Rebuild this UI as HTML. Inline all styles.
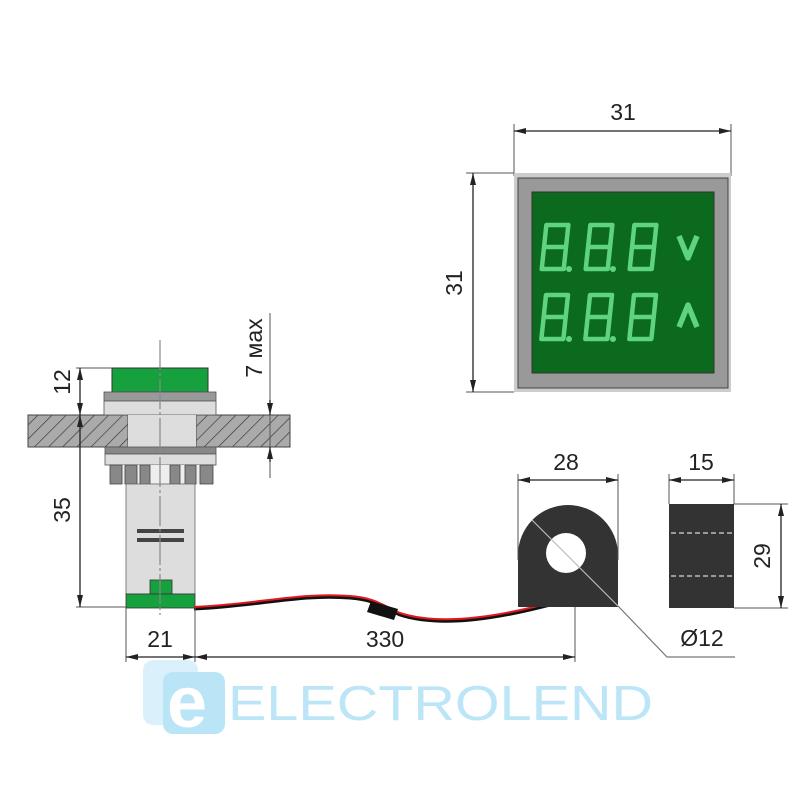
<!DOCTYPE html>
<html><head><meta charset="utf-8"><style>
html,body{margin:0;padding:0;background:#fff;}
svg{display:block;font-family:"Liberation Sans",sans-serif;}
</style></head><body>
<svg width="800" height="800" viewBox="0 0 800 800" xmlns="http://www.w3.org/2000/svg">
<defs>
<marker id="a" viewBox="0 0 12 6" refX="12" refY="3" markerWidth="12" markerHeight="6" orient="auto-start-reverse" markerUnits="userSpaceOnUse"><path d="M0,0 L12,3 L0,6 Z" fill="#222"/></marker>
<pattern id="h" width="10" height="10" patternUnits="userSpaceOnUse" patternTransform="rotate(45)"><rect width="10" height="10" fill="#aaa"/><line x1="0" y1="0" x2="0" y2="10" stroke="#333" stroke-width="1.3"/></pattern>
</defs>
<!-- logo -->
<g opacity="0.9">
<rect x="143" y="660" width="55" height="65" rx="10" fill="#d6f0fb"/>
<rect x="163" y="672" width="62" height="62" rx="10" fill="#b3e3f7"/>
<text x="167" y="727" font-size="72" fill="#fff" font-weight="bold">e</text>
<text x="228" y="720" font-size="49" fill="#b5e4f7" textLength="425" lengthAdjust="spacingAndGlyphs">ELECTROLEND</text>
</g>
<!-- display -->
<g stroke="#555" stroke-width="1">
<line x1="514" y1="124" x2="514" y2="176"/><line x1="731" y1="124" x2="731" y2="176"/>
<line x1="466" y1="173" x2="514" y2="173"/><line x1="466" y1="392" x2="514" y2="392"/>
</g>
<line x1="514" y1="131" x2="731" y2="131" stroke="#222" stroke-width="1.3" marker-start="url(#a)" marker-end="url(#a)"/>
<line x1="473" y1="173" x2="473" y2="392" stroke="#222" stroke-width="1.3" marker-start="url(#a)" marker-end="url(#a)"/>
<text x="623" y="120" font-size="23" text-anchor="middle" fill="#222">31</text>
<text transform="translate(462,283) rotate(-90)" font-size="23" text-anchor="middle" fill="#222">31</text>
<rect x="514" y="173" width="217" height="219" fill="#ccc"/>
<rect x="518" y="178" width="210" height="210" fill="#999" stroke="#444" stroke-width="1"/>
<rect x="532" y="192" width="182" height="181" fill="#0b6a1e" stroke="#333" stroke-width="1"/>
<g fill="none" stroke="#5fd47f" stroke-width="4.5" stroke-linejoin="round">
<g transform="skewX(-6)">
<path d="M570,225 h22 v22 h-22 z M570,247 v22 h22 v-22"/>
<path d="M614,225 h22 v22 h-22 z M614,247 v22 h22 v-22"/>
<path d="M658,225 h22 v22 h-22 z M658,247 v22 h22 v-22"/>
<path d="M577,295 h22 v22 h-22 z M577,317 v22 h22 v-22"/>
<path d="M621,295 h22 v22 h-22 z M621,317 v22 h22 v-22"/>
<path d="M665,295 h22 v22 h-22 z M665,317 v22 h22 v-22"/>
</g>
<path d="M679,236 L688,258 L697,236" stroke-width="5.5"/>
<path d="M679,327 L688,305 L697,327" stroke-width="5.5"/>
</g>
<g fill="#5fd47f"><circle cx="569" cy="269" r="3"/><circle cx="613" cy="269" r="3"/><circle cx="569" cy="339" r="3"/><circle cx="613" cy="339" r="3"/></g>
<!-- left component -->
<rect x="28" y="415" width="100" height="32" fill="url(#h)" stroke="#444"/>
<rect x="196" y="415" width="94" height="32" fill="url(#h)" stroke="#444"/>
<rect x="112" y="368" width="96" height="24" fill="#17a13e" stroke="#333"/>
<rect x="104" y="392" width="112" height="9" fill="#999" stroke="#555" stroke-width="0.8"/>
<rect x="104" y="401" width="112" height="14" fill="#ddd" stroke="#555" stroke-width="0.8"/>
<rect x="128" y="415" width="68" height="32" fill="#ddd"/>
<rect x="105" y="447" width="111" height="7" fill="#888" stroke="#555" stroke-width="0.8"/>
<rect x="105" y="454" width="111" height="11" fill="#ddd" stroke="#555" stroke-width="0.8"/>
<rect x="110" y="465" width="103" height="19" fill="#eee"/>
<g fill="#888" stroke="#444" stroke-width="0.8">
<rect x="110" y="465" width="12" height="19"/><rect x="125" y="465" width="12" height="19"/><rect x="140" y="465" width="10" height="19"/>
<rect x="170" y="465" width="10" height="19"/><rect x="185" y="465" width="11" height="19"/><rect x="200" y="465" width="13" height="19"/>
</g>
<rect x="126" y="484" width="69" height="110" fill="#ddd" stroke="#666" stroke-width="0.8"/>
<rect x="137" y="529" width="47" height="4" fill="#444"/><rect x="137" y="538" width="47" height="4" fill="#444"/>
<rect x="150" y="580" width="22" height="14" fill="#17a13e" stroke="#333" stroke-width="0.8"/>
<rect x="126" y="594" width="69" height="14" fill="#17a13e" stroke="#333" stroke-width="0.8"/>
<line x1="160" y1="340" x2="160" y2="615" stroke="#888" stroke-width="1.2" stroke-dasharray="30,3,3,3"/>
<!-- wire -->
<path d="M194,609 C260,606 300,594 350,598 C375,600 380,606 400,615 C440,628 500,620 575,598" fill="none" stroke="#111" stroke-width="3"/>
<path d="M194,607 C260,604 300,592 350,596 C375,598 380,604 400,613 C440,626 500,618 575,596" fill="none" stroke="#e0191f" stroke-width="2"/>
<path d="M371,601 L398,609 L394,620 L367,612 Z" fill="#111"/>
<!-- left dims -->
<g stroke="#555" stroke-width="1">
<line x1="76" y1="368" x2="112" y2="368"/><line x1="76" y1="607" x2="126" y2="607"/>
<line x1="126" y1="608" x2="126" y2="662"/><line x1="195" y1="608" x2="195" y2="662"/>
<line x1="575" y1="598" x2="575" y2="662"/>
<line x1="270" y1="313" x2="270" y2="478"/>
</g>
<line x1="80" y1="368" x2="80" y2="415" stroke="#222" stroke-width="1.3" marker-start="url(#a)" marker-end="url(#a)"/>
<line x1="80" y1="415" x2="80" y2="607" stroke="#222" stroke-width="1.3" marker-start="url(#a)" marker-end="url(#a)"/>
<line x1="270" y1="400" x2="270" y2="415" stroke="#222" stroke-width="1.3" marker-end="url(#a)"/>
<line x1="270" y1="462" x2="270" y2="447" stroke="#222" stroke-width="1.3" marker-end="url(#a)"/>
<line x1="126" y1="657" x2="195" y2="657" stroke="#222" stroke-width="1.3" marker-start="url(#a)" marker-end="url(#a)"/>
<line x1="195" y1="657" x2="575" y2="657" stroke="#222" stroke-width="1.3" marker-start="url(#a)" marker-end="url(#a)"/>
<text transform="translate(70,382) rotate(-90)" font-size="23" text-anchor="middle" fill="#222">12</text>
<text transform="translate(70,510) rotate(-90)" font-size="23" text-anchor="middle" fill="#222">35</text>
<text transform="translate(262,348) rotate(-90)" font-size="23" text-anchor="middle" fill="#222">7 мах</text>
<text x="160" y="647" font-size="23" text-anchor="middle" fill="#222">21</text>
<text x="385" y="647" font-size="23" text-anchor="middle" fill="#222">330</text>
<!-- CT -->
<path d="M518,607 V555 A50,50 0 0 1 618,555 V607 Z" fill="#333"/>
<circle cx="566" cy="553" r="20" fill="#fff"/>
<g stroke="#555" stroke-width="1">
<line x1="518" y1="474" x2="518" y2="560"/><line x1="618" y1="474" x2="618" y2="560"/>
<line x1="669" y1="474" x2="669" y2="504"/><line x1="734" y1="474" x2="734" y2="504"/>
<line x1="734" y1="504" x2="788" y2="504"/><line x1="734" y1="608" x2="788" y2="608"/>
</g>
<line x1="532" y1="520" x2="618" y2="606" stroke="#bbb" stroke-width="1.2"/>
<polyline points="618,606 667,657 735,657" fill="none" stroke="#777" stroke-width="1.2"/>
<line x1="518" y1="480" x2="618" y2="480" stroke="#222" stroke-width="1.3" marker-start="url(#a)" marker-end="url(#a)"/>
<line x1="669" y1="480" x2="734" y2="480" stroke="#222" stroke-width="1.3" marker-start="url(#a)" marker-end="url(#a)"/>
<line x1="781" y1="504" x2="781" y2="608" stroke="#222" stroke-width="1.3" marker-start="url(#a)" marker-end="url(#a)"/>
<text x="566" y="470" font-size="23" text-anchor="middle" fill="#222">28</text>
<text x="701" y="470" font-size="23" text-anchor="middle" fill="#222">15</text>
<text transform="translate(770,556) rotate(-90)" font-size="23" text-anchor="middle" fill="#222">29</text>
<text x="702" y="646" font-size="23" text-anchor="middle" fill="#222">Ø12</text>
<rect x="669" y="504" width="65" height="104" fill="#333"/>
<g stroke="#bbb" stroke-width="1.5" stroke-dasharray="5,3">
<line x1="671" y1="533" x2="732" y2="533"/><line x1="671" y1="576" x2="732" y2="576"/>
</g>
</svg>
</body></html>
